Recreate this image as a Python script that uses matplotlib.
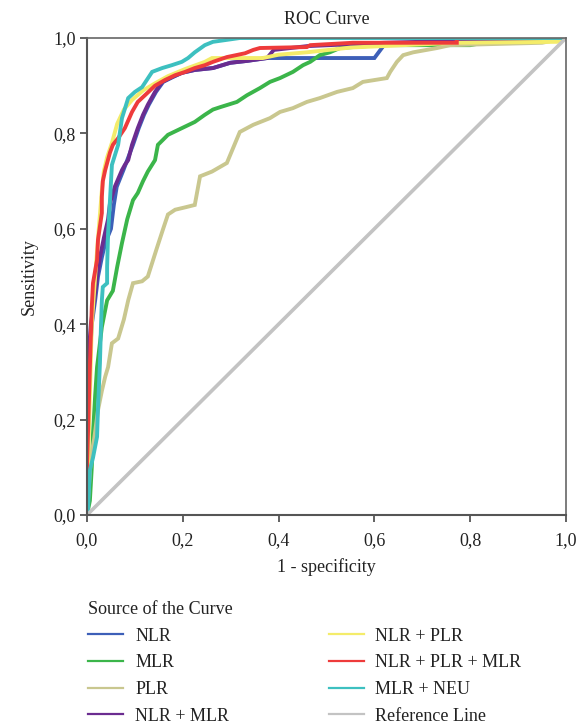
import matplotlib.pyplot as plt
from matplotlib.lines import Line2D
from matplotlib.ticker import FuncFormatter, MultipleLocator

plt.rcParams["font.family"] = ["Liberation Serif", "DejaVu Serif"]

labels = ["NLR", "MLR", "PLR", "NLR + MLR",
          "NLR + PLR", "NLR + PLR + MLR", "MLR + NEU"]
colors = ["#3d5fb8", "#3bb54a", "#c9c78f", "#6b2c90",
          "#f4ec6a", "#ee3b3b", "#3dc0c0"]
ref_color = "#c3c3c3"

# (1 - specificity, sensitivity)
nlr_x = [0, 0.002, 0.004, 0.006, 0.010, 0.017, 0.023, 0.031, 0.038, 0.050, 0.056, 0.062,
         0.076, 0.084, 0.096, 0.108, 0.119, 0.129, 0.144, 0.159, 0.179, 0.198, 0.225, 0.263,
         0.299, 0.334, 0.376, 0.60, 0.62, 1]
nlr_y = [0, 0.15, 0.25, 0.33, 0.40, 0.45, 0.50, 0.54, 0.57, 0.60, 0.65, 0.688,
         0.723, 0.744, 0.776, 0.811, 0.839, 0.86, 0.887, 0.908, 0.918, 0.927, 0.933, 0.937,
         0.948, 0.952, 0.958, 0.958, 0.985, 1]

mlr_x = [0, 0.006, 0.010, 0.0125, 0.017, 0.021, 0.031, 0.042, 0.054, 0.063, 0.073, 0.084,
         0.096, 0.106, 0.117, 0.127, 0.142, 0.148, 0.169, 0.198, 0.225, 0.246, 0.263, 0.278,
         0.313, 0.334, 0.361, 0.382, 0.403, 0.430, 0.451, 0.466, 0.486, 0.507, 0.528, 0.555,
         0.612, 0.80, 0.827, 0.914, 0.95, 1]
mlr_y = [0, 0.03, 0.10, 0.17, 0.25, 0.31, 0.394, 0.45, 0.47, 0.52, 0.57, 0.62,
         0.66, 0.675, 0.70, 0.72, 0.744, 0.776, 0.797, 0.811, 0.824, 0.839, 0.850, 0.855,
         0.866, 0.88, 0.895, 0.908, 0.916, 0.929, 0.943, 0.95, 0.964, 0.97, 0.979, 0.981,
         0.985, 0.985, 0.99, 0.99, 0.995, 1]

plr_x = [0, 0.004, 0.008, 0.015, 0.023, 0.031, 0.038, 0.044, 0.052, 0.065, 0.077, 0.086,
         0.096, 0.115, 0.127, 0.146, 0.159, 0.169, 0.184, 0.205, 0.225, 0.236, 0.261, 0.292,
         0.319, 0.347, 0.382, 0.403, 0.430, 0.459, 0.486, 0.522, 0.555, 0.576, 0.626, 0.633,
         0.647, 0.660, 0.681, 0.731, 0.758, 0.95, 1]
plr_y = [0, 0.06, 0.12, 0.16, 0.22, 0.26, 0.29, 0.31, 0.36, 0.37, 0.41, 0.45,
         0.486, 0.49, 0.50, 0.56, 0.60, 0.63, 0.64, 0.645, 0.65, 0.71, 0.72, 0.738,
         0.803, 0.818, 0.832, 0.845, 0.853, 0.866, 0.874, 0.887, 0.895, 0.908, 0.916, 0.929,
         0.95, 0.964, 0.97, 0.979, 0.985, 0.99, 1]

nlr_mlr_x = [0, 0.002, 0.003, 0.008, 0.015, 0.021, 0.027, 0.035, 0.044, 0.048, 0.058, 0.073,
             0.079, 0.086, 0.094, 0.106, 0.117, 0.127, 0.142, 0.157, 0.177, 0.198, 0.225,
             0.263, 0.299, 0.334, 0.376, 0.39, 0.46, 0.62, 1]
nlr_mlr_y = [0, 0.20, 0.33, 0.40, 0.45, 0.50, 0.54, 0.58, 0.62, 0.654, 0.688, 0.723,
             0.734, 0.744, 0.776, 0.811, 0.839, 0.86, 0.887, 0.908, 0.918, 0.927, 0.933,
             0.937, 0.948, 0.952, 0.958, 0.975, 0.983, 0.99, 1]

nlr_plr_x = [0, 0.002, 0.006, 0.010, 0.017, 0.023, 0.027, 0.031, 0.035, 0.042, 0.052, 0.063,
             0.077, 0.094, 0.117, 0.142, 0.169, 0.205, 0.246, 0.261, 0.367, 0.40, 0.459,
             0.55, 0.772, 0.981, 1]
nlr_plr_y = [0, 0.10, 0.25, 0.40, 0.50, 0.58, 0.63, 0.68, 0.72, 0.75, 0.78, 0.82,
             0.85, 0.87, 0.89, 0.905, 0.92, 0.935, 0.95, 0.958, 0.958, 0.965, 0.97,
             0.98, 0.99, 0.992, 1]

all3_x = [0, 0.0, 0.006, 0.010, 0.0125, 0.021, 0.023, 0.031, 0.031, 0.033, 0.038, 0.048,
          0.054, 0.065, 0.079, 0.094, 0.106, 0.121, 0.142, 0.163, 0.184, 0.205, 0.225, 0.246,
          0.263, 0.292, 0.330, 0.347, 0.361, 0.459, 0.466, 0.555, 0.772, 0.772, 1]
all3_y = [0, 0.10, 0.31, 0.436, 0.486, 0.535, 0.577, 0.633, 0.667, 0.70, 0.723, 0.76,
          0.776, 0.79, 0.811, 0.845, 0.866, 0.88, 0.90, 0.912, 0.922, 0.929, 0.937, 0.943,
          0.95, 0.96, 0.968, 0.975, 0.979, 0.981, 0.985, 0.99, 0.99, 1.0, 1]

mlr_neu_x = [0, 0.002, 0.006, 0.0125, 0.021, 0.023, 0.027, 0.029, 0.031, 0.033, 0.042, 0.042,
             0.044, 0.048, 0.052, 0.065, 0.073, 0.086, 0.100, 0.115, 0.136, 0.157, 0.177,
             0.198, 0.211, 0.225, 0.246, 0.263, 0.319, 1]
mlr_neu_y = [0, 0.01, 0.094, 0.12, 0.164, 0.226, 0.318, 0.39, 0.45, 0.478, 0.486, 0.52,
             0.59, 0.66, 0.734, 0.776, 0.832, 0.874, 0.887, 0.897, 0.929, 0.937, 0.943,
             0.95, 0.958, 0.97, 0.985, 0.992, 1.0, 1]

curves_x = [nlr_x, mlr_x, plr_x, nlr_mlr_x, nlr_plr_x, all3_x, mlr_neu_x]
curves_y = [nlr_y, mlr_y, plr_y, nlr_mlr_y, nlr_plr_y, all3_y, mlr_neu_y]

fig = plt.figure(figsize=(5.86, 7.27), dpi=100)
ax = fig.add_axes([87 / 586, 1 - 515 / 727, 479 / 586, 477 / 727])

for xs, ys, c in zip(curves_x, curves_y, colors):
    ax.plot(xs, ys, color=c, lw=2.8, solid_joinstyle="miter")
ax.plot([0, 1], [0, 1], color=ref_color, lw=2.6)

ax.set_xlim(0, 1)
ax.set_ylim(0, 1)
ax.xaxis.set_major_locator(MultipleLocator(0.2))
ax.yaxis.set_major_locator(MultipleLocator(0.2))
comma = FuncFormatter(lambda v, _: f"{v:.1f}".replace(".", ","))
ax.xaxis.set_major_formatter(comma)
ax.yaxis.set_major_formatter(comma)
ax.tick_params(direction="out", length=5, width=1.3, color="#555555",
               labelsize=13, labelcolor="#222222")
ax.tick_params(axis="x", pad=7)
ax.tick_params(axis="y", pad=3)
for side in ["left", "bottom"]:
    ax.spines[side].set_color("#555555")
    ax.spines[side].set_linewidth(1.5)
for side in ["top", "right"]:
    ax.spines[side].set_color("#666666")
    ax.spines[side].set_linewidth(1.2)

ax.set_title("ROC Curve", fontsize=13, color="#222222", pad=10)
ax.set_xlabel("1 - specificity", fontsize=13, color="#222222", labelpad=7)
ax.set_ylabel("Sensitivity", fontsize=13, color="#222222", labelpad=11)

handles = [Line2D([], [], color=c, lw=1.6) for c in colors]
handles.append(Line2D([], [], color=ref_color, lw=1.6))
leg = fig.legend(handles, labels + ["Reference Line"], ncol=2,
                 loc="upper left", bbox_to_anchor=(72 / 586, 1 - 585 / 727),
                 frameon=False, fontsize=13, title="Source of the Curve",
                 title_fontsize=13, alignment="left", handlelength=1.94,
                 handletextpad=0.66, labelspacing=0.53, columnspacing=5.5)
for t in leg.get_texts():
    t.set_color("#222222")
leg.get_title().set_color("#222222")

fig.savefig("out.png", dpi=100)
